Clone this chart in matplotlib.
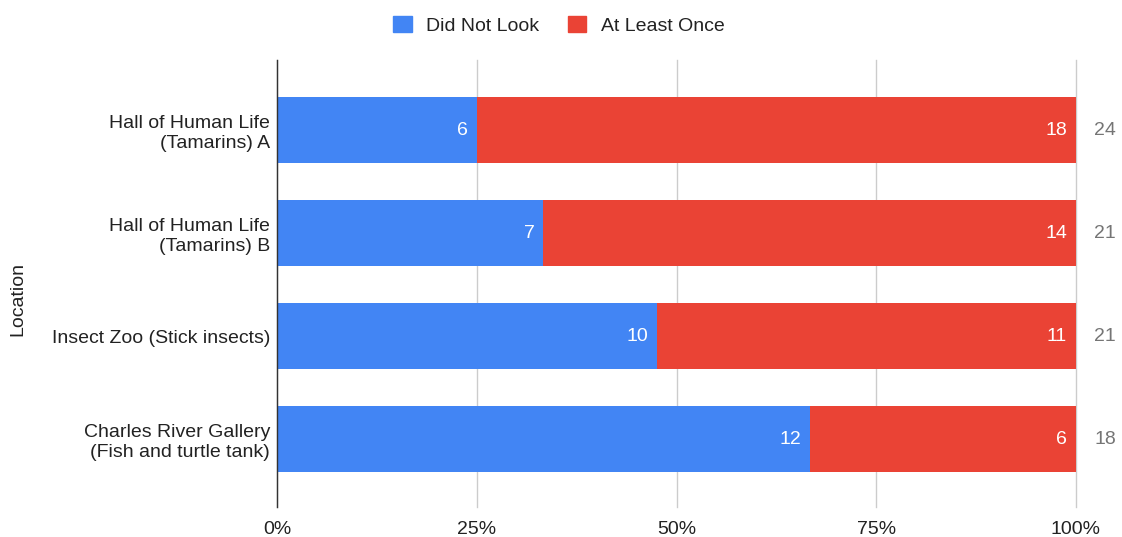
import matplotlib.pyplot as plt
from matplotlib.patches import Patch
from matplotlib.ticker import PercentFormatter

plt.rcParams['font.family'] = ['Liberation Sans', 'DejaVu Sans']

locations = ['Hall of Human Life\n(Tamarins) A',
             'Hall of Human Life\n(Tamarins) B',
             'Insect Zoo (Stick insects)',
             'Charles River Gallery\n(Fish and turtle tank)']
did_not_look = [6, 7, 10, 12]
at_least_once = [18, 14, 11, 6]

blue = '#4285F4'
red = '#EA4335'

fig = plt.figure(figsize=(11.22, 5.37), dpi=100)
ax = fig.add_axes([0.2469, 0.0559, 0.7121, 0.8324])

totals = [a + b for a, b in zip(did_not_look, at_least_once)]
share_blue = [a / t for a, t in zip(did_not_look, totals)]
share_red = [b / t for b, t in zip(at_least_once, totals)]
ypos = list(range(len(locations)))

ax.barh(ypos, share_blue, height=0.64, color=blue, zorder=3)
ax.barh(ypos, share_red, left=share_blue, height=0.64, color=red, zorder=3)

for y, a, b, sb, t in zip(ypos, did_not_look, at_least_once, share_blue, totals):
    ax.text(sb - 0.011, y, str(a), color='white', ha='right', va='center',
            fontsize=14, zorder=4)
    ax.text(1 - 0.011, y, str(b), color='white', ha='right', va='center',
            fontsize=14, zorder=4)
    ax.text(1.023, y, str(t), color='#757575', ha='left', va='center',
            fontsize=14, clip_on=False)

ax.set_xlim(0, 1)
ax.set_ylim(3.66, -0.68)
ax.set_yticks(ypos)
ax.set_yticklabels(locations, fontsize=14, color='#222222', linespacing=1.25)
ax.set_xticks([0, 0.25, 0.5, 0.75, 1.0])
ax.xaxis.set_major_formatter(PercentFormatter(1.0, decimals=0))
ax.tick_params(axis='x', labelsize=14, colors='#222222', length=0, pad=10)
ax.tick_params(axis='y', length=0, pad=5)

ax.grid(axis='x', color='#CCCCCC', linewidth=1, zorder=0)
for gl in ax.get_xgridlines():
    gl.set_clip_on(False)
for side in ['top', 'right', 'bottom']:
    ax.spines[side].set_visible(False)
ax.spines['left'].set_color('#333333')
ax.spines['left'].set_linewidth(1)
ax.spines['left'].set_zorder(5)

fig.text(0.016, 0.443, 'Location', rotation=90, ha='center', va='center',
         fontsize=14, color='#222222')

handles = [Patch(facecolor=blue, edgecolor=blue, label='Did Not Look'),
           Patch(facecolor=red, edgecolor=red, label='At Least Once')]
fig.legend(handles=handles, loc='center', bbox_to_anchor=(0.498, 0.953), ncol=2,
           frameon=False, fontsize=14, handlelength=0.95, handleheight=0.95,
           handletextpad=0.75, columnspacing=1.45, labelcolor='#222222')

fig.savefig('out.png', dpi=100)
